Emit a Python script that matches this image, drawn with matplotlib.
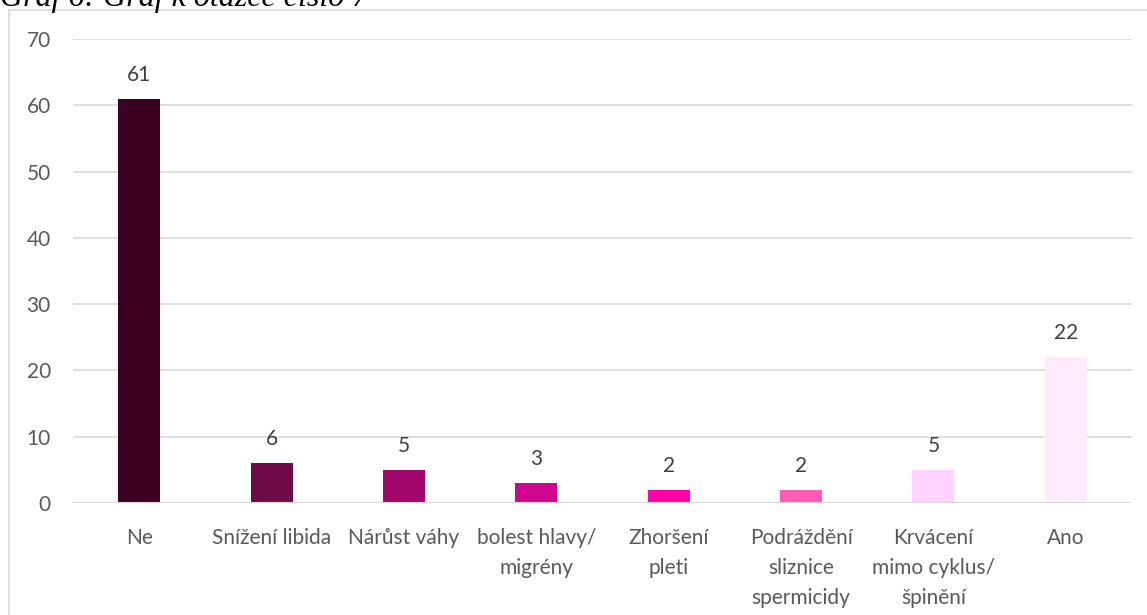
import matplotlib
matplotlib.use("Agg")
import matplotlib.pyplot as plt
from matplotlib.patches import Rectangle

categories = ["Ne", "Snížení libida", "Nárůst váhy", "bolest hlavy/\nmigrény",
              "Zhoršení\npleti", "Podráždění\nsliznice\nspermicidy",
              "Krvácení\nmimo cyklus/\nšpinění", "Ano"]
values = [61, 6, 5, 3, 2, 2, 5, 22]
colors = ["#3C0021", "#6E0A45", "#A1066A", "#D1068F", "#FF00AA", "#FF5CB8", "#FFD3FF", "#FFEBFA"]
yticks = [0, 10, 20, 30, 40, 50, 60, 70]
title = "Graf 6: Graf k otázce číslo 7"

W, H = 1147, 615
fig = plt.figure(figsize=(W / 100, H / 100), dpi=100)
fig.patch.set_facecolor("white")

font = ["Lato", "DejaVu Sans"]
fs = 15

# outer chart frame
fig.patches.append(Rectangle((8.5 / W, -0.1), 1.2, 1 - 10 / H + 0.1, transform=fig.transFigure,
                             fill=False, edgecolor="#D9D9D9", linewidth=1.2))
fig.text(0.0, 1 - 6 / H, title, fontsize=23, style="italic",
         family=["Liberation Serif", "DejaVu Serif"], va="baseline", ha="left", color="black")

left, right = 73 / W, 1132 / W
bottom, top = 1 - 503 / H, 1 - 39 / H
ax = fig.add_axes([left, bottom, right - left, top - bottom])
x = list(range(len(categories)))
ax.bar(x, values, width=0.317, color=colors, zorder=3)
ax.set_xlim(-0.5, len(categories) - 0.5)
ax.set_ylim(0, 70)
ax.set_yticks(yticks)
ax.set_yticklabels([str(t) for t in yticks], family=font, fontsize=fs, color="#595959")
ax.set_xticks(x)
ax.set_xticklabels(categories, family=font, fontsize=fs, color="#595959", linespacing=1.63, va="top")
ax.tick_params(axis="both", length=0)
ax.tick_params(axis="y", pad=16)
ax.tick_params(axis="x", pad=18)
ax.grid(axis="y", color="#D9D9D9", linewidth=1.2, zorder=0)
for s in ax.spines.values():
    s.set_visible(False)
ax.axhline(0, color="#D9D9D9", linewidth=1.5, zorder=4)
for xi, v in zip(x, values):
    ax.annotate(str(v), (xi, v), xytext=(0, 10), textcoords="offset points",
                ha="center", va="bottom", family=font, fontsize=fs, color="#404040")

fig.savefig("out.png", dpi=100, facecolor="white")
